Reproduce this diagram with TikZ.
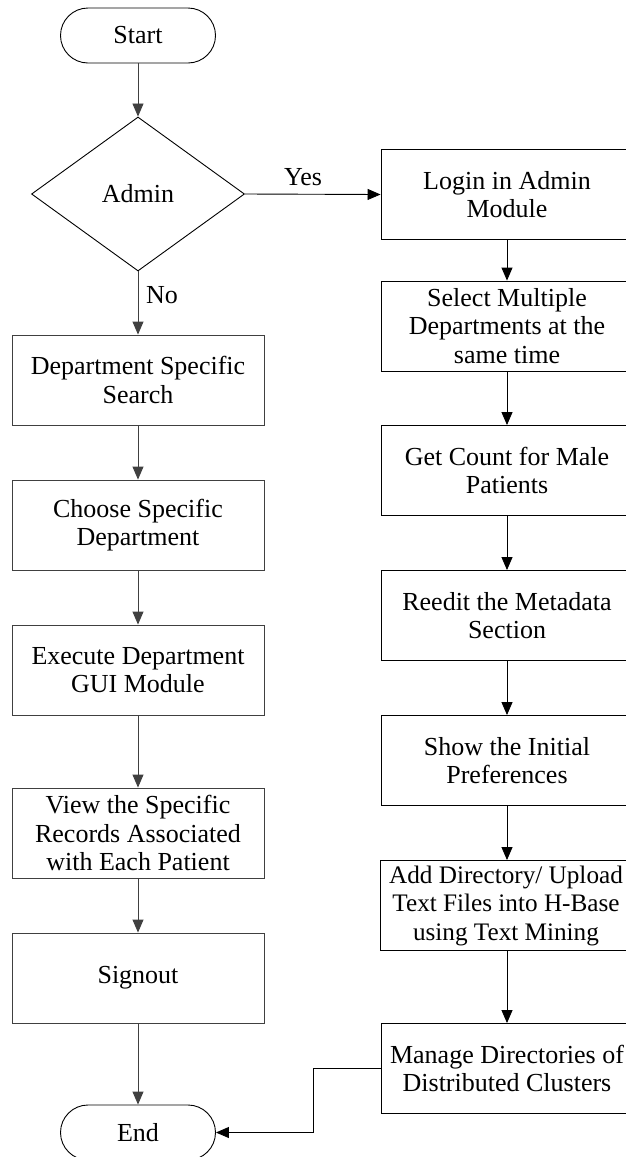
\documentclass[tikz,border=0pt]{standalone}
\usepackage{fontspec}
\setmainfont{Liberation Serif}
\usetikzlibrary{arrows.meta,shapes.geometric}
\begin{document}
\begin{tikzpicture}[x=1pt,y=-1pt,
  every node/.style={font=\fontsize{26}{28.5}\selectfont},
  stepbox/.style={draw, line width=0.9pt, minimum width=252pt, minimum height=90pt,
    align=center, inner sep=1pt},
  terminal/.style={draw, line width=0.9pt, rounded corners=27.5pt,
    minimum width=155pt, minimum height=55pt, inner sep=0pt},
  decision/.style={diamond, draw, line width=0.9pt, minimum width=213pt,
    minimum height=154pt, inner sep=0pt},
  flow/.style={line width=0.9pt, -{Triangle[length=13pt,width=11pt]}},
  leftcol/.style={draw=black!75},
  lbl/.style={inner sep=0pt}
]
\useasboundingbox (0,0) rectangle (625,1157);

% left column
\node[terminal] (start) at (138,35.5) {Start};
\node[decision] (admin) at (138,194) {Admin};
\node[stepbox,leftcol] (search) at (138,380) {Department Specific\\Search};
\node[stepbox,leftcol] (choose) at (138,525) {Choose Specific\\Department};
\node[stepbox,leftcol] (execute) at (138,670) {Execute Department\\GUI Module};
\node[stepbox,leftcol] (view) at (138,833) {View the Specific\\Records Associated\\with Each Patient};
\node[stepbox,leftcol] (signout) at (138,978) {Signout};
\node[terminal] (end) at (138,1132.5) {End};

% right column
\node[stepbox] (login) at (507,194.5) {Login in Admin\\Module};
\node[stepbox] (select) at (507,326) {Select Multiple\\Departments at the\\same time};
\node[stepbox] (count) at (507,470.5) {Get Count for Male\\Patients};
\node[stepbox] (reedit) at (507,615.5) {Reedit the Metadata\\Section};
\node[stepbox] (show) at (507,760.5) {Show the Initial\\Preferences};
\node[stepbox,font=\fontsize{25.2}{28.5}\selectfont] (add) at (506,905.5) {Add Directory/ Upload\\Text Files into H-Base\\using Text Mining};
\node[stepbox] (manage) at (507,1068.5) {Manage Directories of\\Distributed Clusters};

% connectors
\draw[flow,leftcol] (start) -- (admin);
\draw[flow] (admin.east) -- (login.west);
\node[lbl] (yes) at (303,177) {Yes};
\draw[flow,leftcol] (admin.south) -- (search.north);
\node[lbl] (no) at (162,295) {No};
\draw[flow,leftcol] (search) -- (choose);
\draw[flow,leftcol] (choose) -- (execute);
\draw[flow,leftcol] (execute) -- (view);
\draw[flow,leftcol] (view) -- (signout);
\draw[flow,leftcol] (signout) -- (end);

\draw[flow] (login) -- (select);
\draw[flow] (select) -- (count);
\draw[flow] (count) -- (reedit);
\draw[flow] (reedit) -- (show);
\draw[flow] (show) -- (add.north -| show.south);
\draw[flow] (add.south -| manage.north) -- (manage);
\coordinate (bend) at (313,1068.5);
\draw[flow] (manage.west) -- (bend) |- (end.east);
\end{tikzpicture}
\end{document}
